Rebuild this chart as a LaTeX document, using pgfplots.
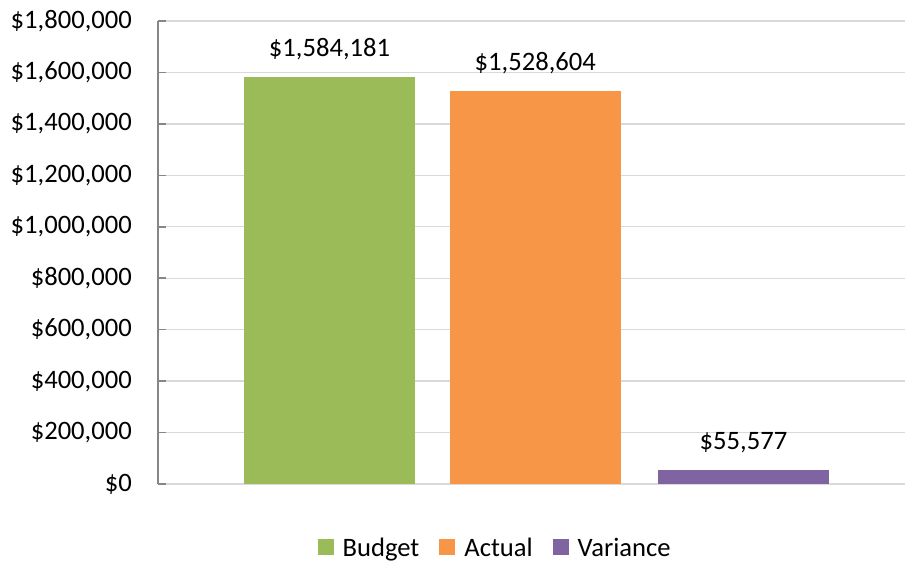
\documentclass[border=0pt]{standalone}
\usepackage{pgfplots}
\pgfplotsset{compat=1.18}
\usepackage{fontspec}
\setmainfont{Carlito}
\definecolor{cgreen}{HTML}{9BBB59}
\definecolor{corange}{HTML}{F79646}
\definecolor{cpurple}{HTML}{8064A2}
\definecolor{gridgray}{HTML}{D9D9D9}
\definecolor{axisgray}{HTML}{868686}
\begin{document}
\begin{tikzpicture}[x=1pt,y=1pt]
\path[use as bounding box] (0,0) rectangle (905,567);
\begin{axis}[
  at={(158pt,83pt)}, anchor=south west,
  scale only axis, width=747pt, height=463pt,
  ymin=0, ymax=1800000, xmin=-1, xmax=1,
  ytick={0,200000,400000,600000,800000,1000000,1200000,1400000,1600000,1800000},
  yticklabels={\$0,{\$200,000},{\$400,000},{\$600,000},{\$800,000},{\$1,000,000},{\$1,200,000},{\$1,400,000},{\$1,600,000},{\$1,800,000}},
  scaled y ticks=false,
  xtick=\empty,
  axis x line=none,
  axis y line*=left,
  y axis line style={draw=axisgray, line width=1.5pt, -},
  tick align=inside,
  major tick length=8pt,
  ytick style={draw=axisgray, line width=1.5pt},
  ymajorgrids,
  grid style={draw=gridgray, line width=1.3pt},
  tick label style={font=\fontsize{26.6}{31}\selectfont, inner sep=0pt},
  yticklabel style={anchor=east, xshift=-26pt},
  ybar, bar width=171pt,
  nodes near coords style={font=\fontsize{26.6}{31}\selectfont, anchor=south, inner sep=0pt, yshift=16.5pt, text=black},
  legend style={draw=none, at={(0.45,-0.138)}, anchor=center,
    font=\fontsize{26.6}{31}\selectfont, legend columns=-1,
    /tikz/every odd column/.append style={column sep=9pt},
    /tikz/every even column/.append style={column sep=20pt},
    nodes={inner sep=0pt}},
  legend image code/.code={\fill[#1] (0pt,-7pt) rectangle (16pt,9pt);},
  clip=false,
]
\addplot[fill=cgreen, draw=none, bar shift=-202pt, nodes near coords={\$1,584,181}] coordinates {(0,1584181)};
\addplot[fill=corange, draw=none, bar shift=3.8pt, nodes near coords={\$1,528,604}] coordinates {(0,1528604)};
\addplot[fill=cpurple, draw=none, bar shift=212pt, nodes near coords={\$55,577}] coordinates {(0,55577)};
\legend{Budget, Actual, Variance}
\end{axis}
\end{tikzpicture}
\end{document}
